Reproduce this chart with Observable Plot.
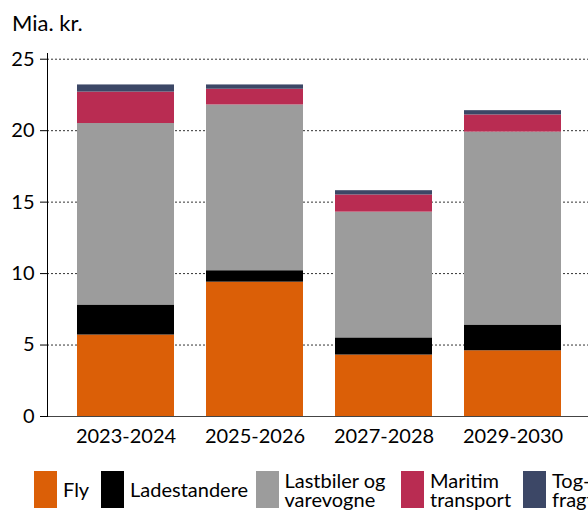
<!DOCTYPE html>
<html>
<head>
<meta charset="utf-8">
<script src="https://cdn.jsdelivr.net/npm/d3@7"></script>
<script src="https://cdn.jsdelivr.net/npm/@observablehq/plot@0.6"></script>
<style>
  html, body { margin: 0; padding: 0; background: #fff; overflow: hidden; }
  body { width: 588px; height: 511px; font-family: Lato, sans-serif; color: #000; }
  #title { height: 29px; padding-top: 11px; padding-left: 12px; font-size: 22px; line-height: 24px; }
  #chart svg { display: block; }
  #legend { position: relative; height: 50px; width: 588px; overflow: hidden; }
  .item { position: absolute; top: 10px; display: flex; align-items: center; white-space: nowrap; }
  .sw { width: 23px; height: 36.5px; flex: none; }
  .lab { margin-left: 6px; font-size: 20px; line-height: 18.5px; }
</style>
</head>
<body>
<div id="title">Mia. kr.</div>
<div id="chart"></div>
<div id="legend"></div>
<script>
const periods = ["2023-2024", "2025-2026", "2027-2028", "2029-2030"];
const seriesNames = ["Fly", "Ladestandere", "Lastbiler og varevogne", "Maritim transport", "Togfragt"];
const legendLines = [["Fly"], ["Ladestandere"], ["Lastbiler og", "varevogne"], ["Maritim", "transport"], ["Tog-", "fragt"]];
const colors = ["#db5f07", "#000000", "#9c9c9c", "#b92c52", "#3c4766"];
const fly = [5.7, 9.4, 4.3, 4.6];
const ladestandere = [2.1, 0.8, 1.2, 1.8];
const lastbiler = [12.7, 11.6, 8.8, 13.5];
const maritim = [2.2, 1.1, 1.2, 1.2];
const togfragt = [0.5, 0.3, 0.3, 0.3];
const yTicks = [0, 5, 10, 15, 20, 25];

const seriesValues = [fly, ladestandere, lastbiler, maritim, togfragt];
const data = [];
seriesNames.forEach((s, si) => {
  periods.forEach((p, pi) => data.push({period: p, series: s, value: seriesValues[si][pi]}));
});

const chart = Plot.plot({
  width: 588,
  height: 421,
  marginLeft: 47,
  marginRight: 0,
  marginTop: 13,
  marginBottom: 45,
  style: {fontFamily: "Lato, sans-serif", fontSize: "20px", color: "#000", background: "#fff", overflow: "visible"},
  x: {domain: periods, range: [76, 563], paddingInner: 0.246, paddingOuter: 0, label: null},
  y: {domain: [0, 25.4], label: null},
  color: {domain: seriesNames, range: colors},
  marks: [
    Plot.gridY(yTicks, {stroke: "#333", strokeOpacity: 1, strokeWidth: 1, strokeDasharray: "2,2"}),
    Plot.barY(data, {x: "period", y: "value", fill: "series", order: seriesNames}),
    Plot.ruleY([0], {stroke: "#444", strokeWidth: 1}),
    Plot.frame({anchor: "left", stroke: "#000", strokeWidth: 1}),
    Plot.axisY(yTicks, {tickSize: 7, tickPadding: 6, stroke: "#000", fontSize: 20, label: null}),
    Plot.axisX({tickSize: 0, tickPadding: 12, fontSize: 20, label: null})
  ]
});
document.getElementById("chart").appendChild(chart);

const legend = document.getElementById("legend");
const lefts = [34, 101, 255.5, 401, 523];
seriesNames.forEach((s, i) => {
  const it = document.createElement("div");
  it.className = "item";
  it.style.left = lefts[i] + "px";
  const sw = document.createElement("div");
  sw.className = "sw";
  sw.style.background = colors[i];
  const lab = document.createElement("div");
  lab.className = "lab";
  lab.innerHTML = legendLines[i].join("<br>");
  it.appendChild(sw);
  it.appendChild(lab);
  legend.appendChild(it);
});
</script>
</body>
</html>
